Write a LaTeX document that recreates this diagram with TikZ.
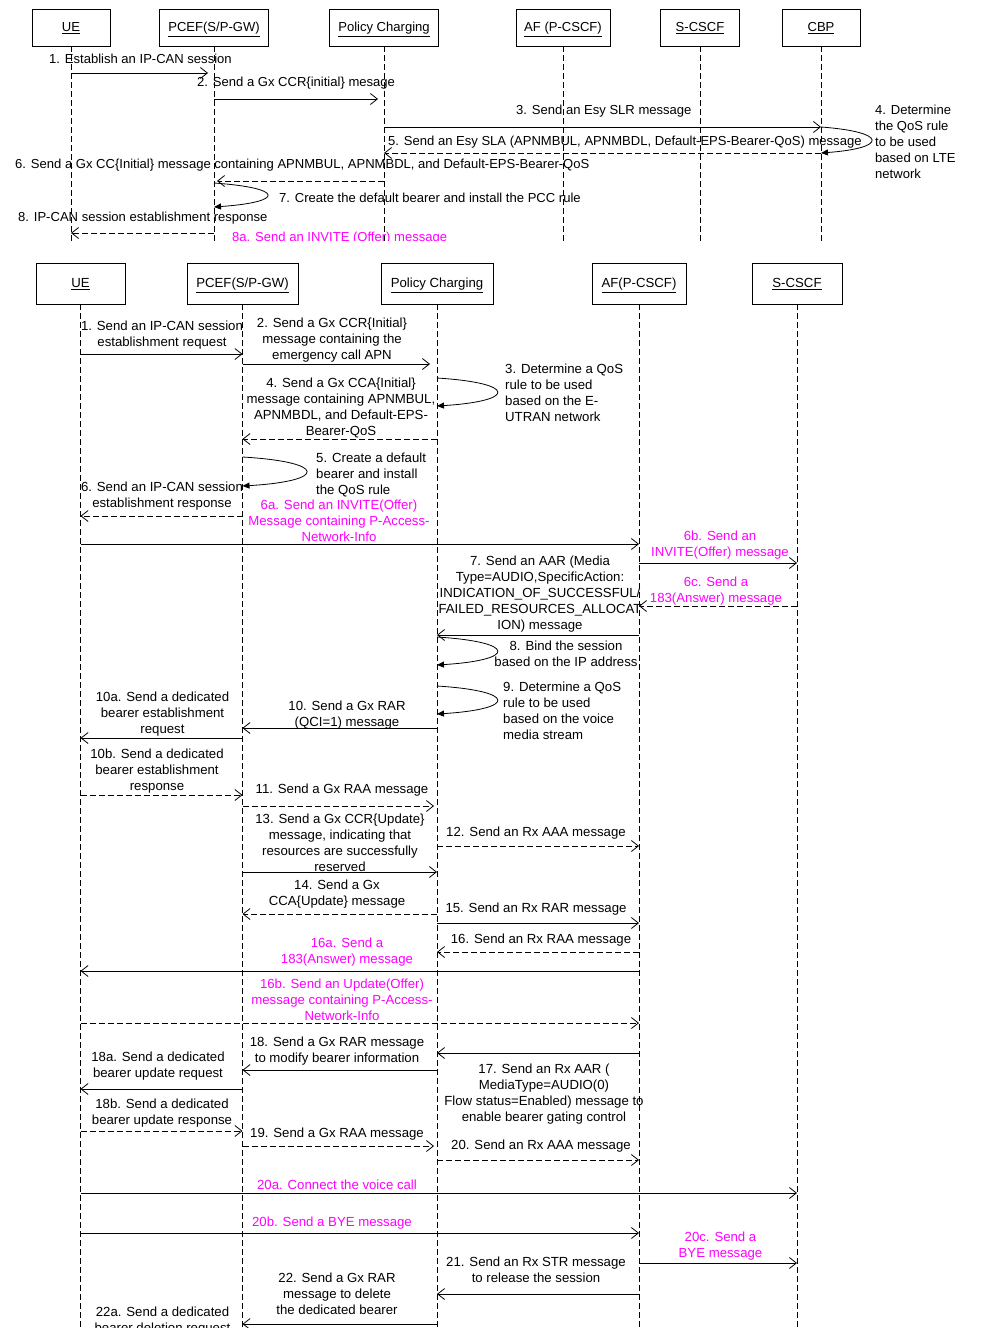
\documentclass[tikz,border=0pt]{standalone}
\usepackage{fontspec}
\setmainfont{Liberation Sans}
\usetikzlibrary{arrows.meta}
\definecolor{pinkmsg}{RGB}{255,0,255}
\tikzset{
  actorbox/.style={draw, line width=0.8pt, inner sep=0pt, text height=9.5pt, text depth=1pt},
  life/.style={line width=0.8pt, dash pattern=on 6pt off 3pt},
  msg/.style={line width=0.8pt, -{Straight Barb[length=7pt,width=11pt,line width=0.8pt]}},
  rmsg/.style={msg, dash pattern=on 6pt off 3pt},
  selfloop/.style={line width=0.8pt, -{Triangle[length=7pt,width=6pt]}},
  lbl/.style={inner sep=0pt, align=center, yshift=-1.5pt},
  lft/.style={inner sep=0pt, align=left, anchor=west, yshift=-1.5pt},
  pk/.style={text=pinkmsg},
  topf/.style={font=\fontsize{13.05}{16}\selectfont},
  botf/.style={font=\fontsize{13.2}{16}\selectfont},
}
\newcommand\seqmsg[4][]{\draw[msg,#1] (#2 |- 0,#4) -- (#3 |- 0,#4);}
\newcommand\seqloop[4]{\draw[selfloop] (#1 |- 0,#2) .. controls +(#4,5) and +(#4,-5) .. (#1 |- 0,#3);}
\begin{document}
\begin{tikzpicture}[x=1pt,y=-1pt]
\useasboundingbox (0,0) rectangle (988,1328);
\clip (0,0) rectangle (988,1328);
% ================= TOP DIAGRAM =================
\begin{scope}[topf]
\clip (0,0) rectangle (988,240.5);
\node[actorbox, minimum width=78pt, minimum height=37pt] (tue) at (71,27.5) {\underline{UE}};
\node[actorbox, minimum width=109pt, minimum height=37pt] (tpcef) at (214,27.5) {\underline{PCEF(S/P-GW)}};
\node[actorbox, minimum width=109pt, minimum height=37pt] (tpc) at (384,27.5) {\underline{Policy Charging}};
\node[actorbox, minimum width=94pt, minimum height=37pt] (taf) at (563,27.5) {\underline{AF (P-CSCF)}};
\node[actorbox, minimum width=79pt, minimum height=37pt] (ts) at (700,27.5) {\underline{S-CSCF}};
\node[actorbox, minimum width=78pt, minimum height=37pt] (tcbp) at (821,27.5) {\underline{CBP}};
\foreach \n in {tue,tpcef,tpc,taf,ts,tcbp}{\draw[life] (\n.south) -- (\n.south |- 0,245);}

\node[lft] (tl1) at (49,57) {1. Establish an IP-CAN session};
\seqmsg[shorten >=6pt]{tue}{tpcef}{73}
\node[lft] (tl2) at (197,82) {2. Send a Gx CCR\{initial\} mesage};
\seqmsg[shorten >=6pt]{tpcef}{tpc}{99}
\node[lft] (tl3) at (516,110) {3. Send an Esy SLR message};
\seqmsg{tpc}{tcbp}{127}
\seqloop{tcbp}{127}{153}{67}
\node[lft] (tl4) at (875,140) {4. Determine\\the QoS rule\\to be used\\based on LTE\\network};
\node[lft] (tl5) at (388,141) {5. Send an Esy SLA (APNMBUL, APNMBDL, Default-EPS-Bearer-QoS) message};
\seqmsg[rmsg]{tcbp}{tpc}{153}
\node[lft] (tl6) at (15,164) {6. Send a Gx CC\{Initial\} message containing APNMBUL, APNMBDL, and Default-EPS-Bearer-QoS};
\seqmsg[rmsg,shorten >=3pt]{tpc}{tpcef}{181}
\seqloop{tpcef}{183}{207}{71}
\node[lft] (tl7) at (279,196) {7. Create the default bearer and install the PCC rule};
\node[lft] (tl8) at (18,217) {8. IP-CAN session establishment response};
\seqmsg[rmsg]{tpcef}{tue}{233}
\node[lft,pk] (tl8a) at (232,237) {8a. Send an INVITE (Offer) message};
\end{scope}
% ================= BOTTOM DIAGRAM =================
\begin{scope}[botf]
\node[actorbox, minimum width=89pt, minimum height=41pt] (bue) at (80.5,283.5) {\underline{UE}};
\node[actorbox, minimum width=111pt, minimum height=41pt] (bpcef) at (242.5,283.5) {\underline{PCEF(S/P-GW)}};
\node[actorbox, minimum width=112pt, minimum height=41pt] (bpc) at (437,283.5) {\underline{Policy Charging}};
\node[actorbox, minimum width=94pt, minimum height=41pt] (baf) at (639,283.5) {\underline{AF(P-CSCF)}};
\node[actorbox, minimum width=90pt, minimum height=41pt] (bs) at (797,283.5) {\underline{S-CSCF}};
\foreach \n in {bue,bpcef,bpc,baf,bs}{\draw[life] (\n.south) -- (\n.south |- 0,1335);}

\node[lbl] (b1) at (162,334) {1. Send an IP-CAN session\\establishment request};
\seqmsg{bue}{bpcef}{354}
\node[lbl] (b2) at (332,339) {2. Send a Gx CCR\{Initial\}\\message containing the\\emergency call APN};
\seqmsg[shorten >=7pt]{bpcef}{bpc}{364}
\seqloop{bpc}{378}{406}{80}
\node[lft] (b3) at (505,391) {3. Determine a QoS\\rule to be used\\based on the E-\\UTRAN network};
\node[lbl] (b4) at (341,406) {4. Send a Gx CCA\{Initial\}\\message containing APNMBUL,\\APNMBDL, and Default-EPS-\\Bearer-QoS};
\seqmsg[rmsg]{bpc}{bpcef}{439}
\seqloop{bpcef}{457}{486}{85}
\node[lft] (b5) at (316,473) {5. Create a default\\bearer and install\\the QoS rule};
\node[lbl] (b6) at (162,495) {6. Send an IP-CAN session\\establishment response};
\seqmsg[rmsg]{bpcef}{bue}{516}
\node[lbl,pk] (b6a) at (339,519) {6a. Send an INVITE(Offer)\\Message containing P-Access-\\Network-Info};
\seqmsg{bue}{baf}{544}
\node[lbl,pk] (b6b) at (720,543.5) {6b. Send an\\INVITE(Offer) message};
\seqmsg{baf}{bs}{563}
\node[lbl,pk] (b6c) at (716,590) {6c. Send a\\183(Answer) message};
\seqmsg[rmsg]{bs}{baf}{606}
\node[lbl] (b7) at (540,593) {7. Send an AAR (Media\\Type=AUDIO,SpecificAction:\\INDICATION\_OF\_SUCCESSFUL/\\FAILED\_RESOURCES\_ALLOCAT\\ION) message};
\seqmsg{baf}{bpc}{635}
\seqloop{bpc}{637}{665}{80}
\node[lbl] (b8) at (566,652.5) {8. Bind the session\\based on the IP address};
\seqloop{bpc}{686}{714}{80}
\node[lft] (b9) at (503,709.5) {9. Determine a QoS\\rule to be used\\based on the voice\\media stream};
\node[lbl] (b10) at (347,713.5) {10. Send a Gx RAR\\(QCI=1) message};
\seqmsg{bpc}{bpcef}{728}
\node[lbl] (b10a) at (162.5,713) {10a. Send a dedicated\\bearer establishment\\request};
\seqmsg{bpcef}{bue}{738}
\node[lbl] (b10b) at (157,770) {10b. Send a dedicated\\bearer establishment\\response};
\seqmsg[rmsg]{bue}{bpcef}{795}
\node[lbl] (b11) at (342,789) {11. Send a Gx RAA message};
\seqmsg[rmsg,shorten >=3pt]{bpcef}{bpc}{806}
\node[lbl] (b12) at (536,832) {12. Send an Rx AAA message};
\seqmsg[rmsg]{bpc}{baf}{846}
\node[lbl] (b13) at (340,841) {13. Send a Gx CCR\{Update\}\\message, indicating that\\resources are successfully\\reserved};
\seqmsg{bpcef}{bpc}{872}
\node[lbl] (b14) at (337,893) {14. Send a Gx\\CCA\{Update\} message};
\seqmsg[rmsg]{bpc}{bpcef}{914}
\node[lbl] (b15) at (536,908) {15. Send an Rx RAR message};
\seqmsg{bpc}{baf}{923}
\node[lbl] (b16) at (541,939) {16. Send an Rx RAA message};
\seqmsg[rmsg]{baf}{bpc}{952}
\node[lbl,pk] (b16a) at (347,951) {16a. Send a\\183(Answer) message};
\seqmsg{baf}{bue}{971}
\node[lbl,pk] (b16b) at (342,998.5) {16b. Send an Update(Offer)\\message containing P-Access-\\Network-Info};
\seqmsg[rmsg]{bue}{baf}{1023}
\seqmsg{baf}{bpc}{1053}
\node[lbl] (b17) at (544,1093) {17. Send an Rx AAR (\\MediaType=AUDIO(0)\\Flow status=Enabled) message to\\enable bearer gating control};
\node[lbl] (b18) at (337,1050) {18. Send a Gx RAR message\\to modify bearer information};
\seqmsg{bpc}{bpcef}{1070}
\node[lbl] (b18a) at (158,1065) {18a. Send a dedicated\\bearer update request};
\seqmsg{bpcef}{bue}{1089}
\node[lbl] (b18b) at (162,1112) {18b. Send a dedicated\\bearer update response};
\seqmsg[rmsg]{bue}{bpcef}{1131}
\node[lbl] (b19) at (337,1133) {19. Send a Gx RAA message};
\seqmsg[rmsg,shorten >=3pt]{bpcef}{bpc}{1146}
\node[lbl] (b20) at (541,1145) {20. Send an Rx AAA message};
\seqmsg[rmsg]{bpc}{baf}{1160}
\node[lbl,pk] (b20a) at (337,1183) {20a. Connect the voice call};
\seqmsg{bue}{bs}{1193}
\node[lbl,pk] (b20b) at (332,1222) {20b. Send a BYE message};
\seqmsg{bue}{baf}{1233}
\node[lbl,pk] (b20c) at (720.5,1245) {20c. Send a\\BYE message};
\seqmsg{baf}{bs}{1263}
\node[lbl] (b21) at (536,1268) {21. Send an Rx STR message\\to release the session};
\seqmsg{baf}{bpc}{1294}
\node[lbl] (b22) at (337,1292) {22. Send a Gx RAR\\message to delete\\the dedicated bearer};
\seqmsg{bpc}{bpcef}{1324}
\node[lbl] (b22a) at (162.5,1320) {22a. Send a dedicated\\bearer deletion request};
\end{scope}
\end{tikzpicture}
\end{document}
